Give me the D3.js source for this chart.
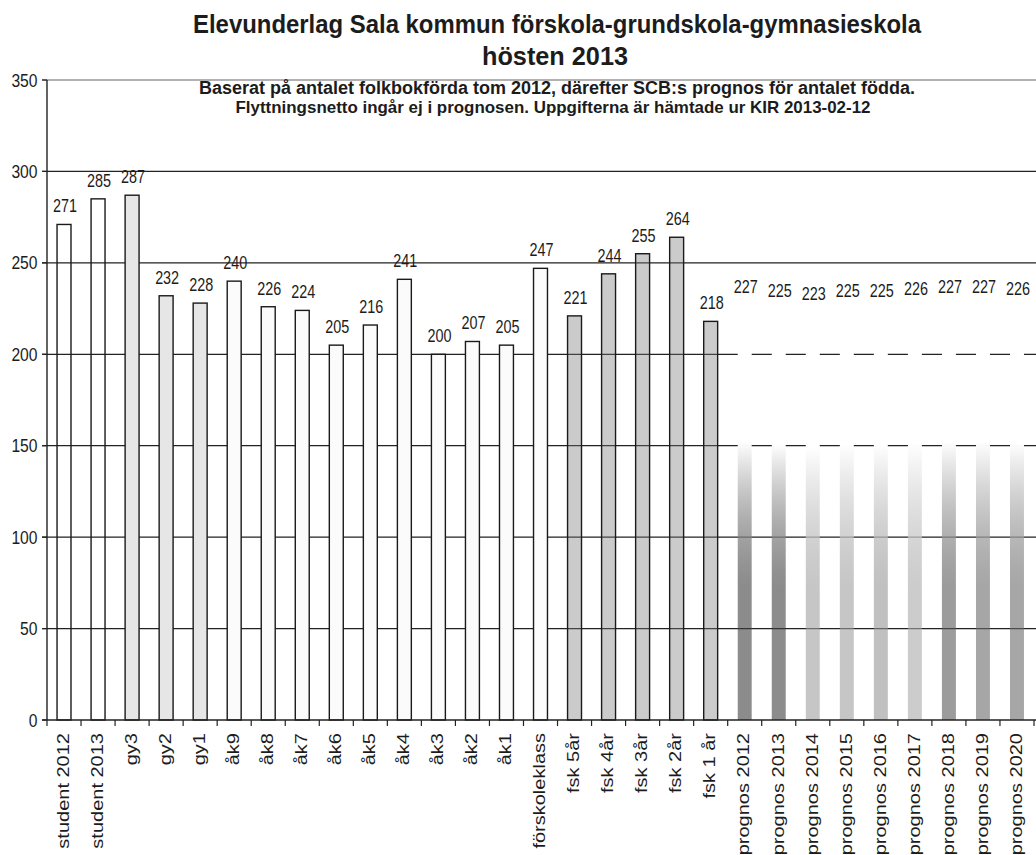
<!DOCTYPE html>
<html><head><meta charset="utf-8">
<script src="https://cdn.jsdelivr.net/npm/d3@7/dist/d3.min.js"></script>
<style>body{margin:0;background:#fff} svg{display:block}</style>
</head><body>
<svg id="chart" width="1036" height="855"></svg>
<script>
// ---------- data ----------
const categories = ["student 2012","student 2013","gy3","gy2","gy1","åk9","åk8","åk7","åk6","åk5","åk4","åk3","åk2","åk1","förskoleklass","fsk 5år","fsk 4år","fsk 3år","fsk 2år","fsk 1 år","prognos 2012","prognos 2013","prognos 2014","prognos 2015","prognos 2016","prognos 2017","prognos 2018","prognos 2019","prognos 2020"];
const values = [271,285,287,232,228,240,226,224,205,216,241,200,207,205,247,221,244,255,264,218,227,225,223,225,225,226,227,227,226];
const groups = ["student","student","gy","gy","gy","ak","ak","ak","ak","ak","ak","ak","ak","ak","fk","fsk","fsk","fsk","fsk","fsk","prog","prog","prog","prog","prog","prog","prog","prog","prog"];
const yTicks = [0,50,100,150,200,250,300,350];
const titleLines = ["Elevunderlag Sala kommun förskola-grundskola-gymnasieskola","hösten 2013"];
const subtitleLines = ["Baserat på antalet folkbokförda tom 2012, därefter SCB:s prognos för antalet födda.","Flyttningsnetto ingår ej i prognosen. Uppgifterna är hämtade ur  KIR 2013-02-12"];

// ---------- style ----------
const FONT = "'Liberation Sans', Arial, sans-serif";
const INK = "#1c1c1c";
const progShade = [140,140,198,198,192,204,156,166,166]; // bottom grey level of the forecast bars

const svg = d3.select("#chart");
const x0 = 47, x1 = 1034, yTop = 80, yBot = 720;
const x = d3.scaleBand().domain(categories).range([x0, x1]).paddingInner(0.59).paddingOuter(0.295);
const y = d3.scaleLinear().domain([0, 350]).range([yBot, yTop]);

// gradients for forecast bars
const defs = svg.append("defs");
const a = 0.6;
categories.forEach((c, i) => {
  if (groups[i] !== "prog") return;
  const k = i - groups.indexOf("prog");
  const t = progShade[k];
  const cv = Math.max(0, Math.round((t - 255 * (1 - a)) / a));
  const col = d3.rgb(cv, cv, cv).formatHex();
  const g = defs.append("linearGradient").attr("id", "pg" + i)
    .attr("x1", 0).attr("y1", 0).attr("x2", 0).attr("y2", 1);
  g.append("stop").attr("offset", 0).attr("stop-color", "#fff").attr("stop-opacity", 1);
  g.append("stop").attr("offset", 0.33).attr("stop-color", "#fff").attr("stop-opacity", 1);
  g.append("stop").attr("offset", 0.68).attr("stop-color", col).attr("stop-opacity", a);
  g.append("stop").attr("offset", 1).attr("stop-color", col).attr("stop-opacity", a);
});

// gridlines
svg.append("g").selectAll("line").data(yTicks.filter(d => d > 0)).join("line")
  .attr("x1", x0 - 5).attr("x2", 1036)
  .attr("y1", d => y(d)).attr("y2", d => y(d))
  .attr("stroke", d => d === 350 ? "#666" : "#222").attr("stroke-width", 1.2);

// bars
const fills = { student: "none", gy: "#e6e6e6", ak: "#fbfbfb", fk: "#fcfcfc", fsk: "#777" };
svg.append("g").selectAll("rect").data(categories).join("rect")
  .attr("x", d => x(d)).attr("width", x.bandwidth())
  .attr("y", (d, i) => y(values[i])).attr("height", (d, i) => y(0) - y(values[i]))
  .attr("fill", (d, i) => groups[i] === "prog" ? `url(#pg${i})` : fills[groups[i]])
  .attr("fill-opacity", (d, i) => groups[i] === "fsk" ? 0.38 : 1)
  .attr("stroke", (d, i) => groups[i] === "prog" ? "none" : "#1a1a1a")
  .attr("stroke-width", 1.4);

// value labels
svg.append("g").selectAll("text").data(categories).join("text")
  .attr("transform", (d, i) => `translate(${x(d) + x.bandwidth() / 2 + 1},${y(values[i]) - 12}) scale(0.8,1)`)
  .attr("text-anchor", "middle").attr("font-family", FONT).attr("font-size", 18).attr("fill", INK)
  .text((d, i) => values[i]);

// axes lines
svg.append("line").attr("x1", x0).attr("x2", x0).attr("y1", yTop).attr("y2", yBot).attr("stroke", "#222").attr("stroke-width", 1.4);
svg.append("line").attr("x1", x0 - 5).attr("x2", 1036).attr("y1", yBot).attr("y2", yBot).attr("stroke", "#222").attr("stroke-width", 1.4);

// y ticks
svg.append("g").selectAll("line").data(yTicks).join("line")
  .attr("x1", x0 - 5).attr("x2", x0).attr("y1", d => y(d)).attr("y2", d => y(d)).attr("stroke", "#222").attr("stroke-width", 1.2);
svg.append("g").selectAll("text").data(yTicks).join("text")
  .attr("transform", d => `translate(37.5,${y(d) + 6.5}) scale(0.87,1)`)
  .attr("text-anchor", "end").attr("font-family", FONT).attr("font-size", 18).attr("fill", INK)
  .text(d => d);

// x ticks at category boundaries
const bounds = categories.map(c => x(c) - x.step() * x.paddingOuter()).concat([x1]);
svg.append("g").selectAll("line").data(bounds).join("line")
  .attr("x1", d => d).attr("x2", d => d).attr("y1", yBot).attr("y2", yBot + 6)
  .attr("stroke", "#222").attr("stroke-width", 1.2);

// x labels
svg.append("g").selectAll("text").data(categories).join("text")
  .attr("transform", d => `translate(${x(d) + x.bandwidth() / 2 - 1},733) rotate(-90) scale(1,0.8)`)
  .attr("text-anchor", "end").attr("dy", "0.36em")
  .attr("font-family", FONT).attr("font-size", 20).attr("fill", INK)
  .text(d => d);

// titles
svg.append("text").attr("x", 557).attr("y", 33).attr("text-anchor", "middle")
  .attr("font-family", FONT).attr("font-weight", "bold").attr("font-size", 25).attr("fill", INK)
  .attr("textLength", 728).attr("lengthAdjust", "spacingAndGlyphs").text(titleLines[0]);
svg.append("text").attr("x", 555).attr("y", 65).attr("text-anchor", "middle")
  .attr("font-family", FONT).attr("font-weight", "bold").attr("font-size", 25).attr("fill", INK)
  .attr("textLength", 146).attr("lengthAdjust", "spacingAndGlyphs").text(titleLines[1]);
svg.append("text").attr("x", 557).attr("y", 94).attr("text-anchor", "middle")
  .attr("font-family", FONT).attr("font-weight", "bold").attr("font-size", 17.5).attr("fill", INK)
  .attr("textLength", 716).attr("lengthAdjust", "spacingAndGlyphs").text(subtitleLines[0]);
svg.append("text").attr("x", 553).attr("y", 112.5).attr("text-anchor", "middle")
  .attr("font-family", FONT).attr("font-weight", "bold").attr("font-size", 17).attr("fill", INK)
  .attr("textLength", 635).attr("lengthAdjust", "spacingAndGlyphs").text(subtitleLines[1]);
</script>
</body></html>
